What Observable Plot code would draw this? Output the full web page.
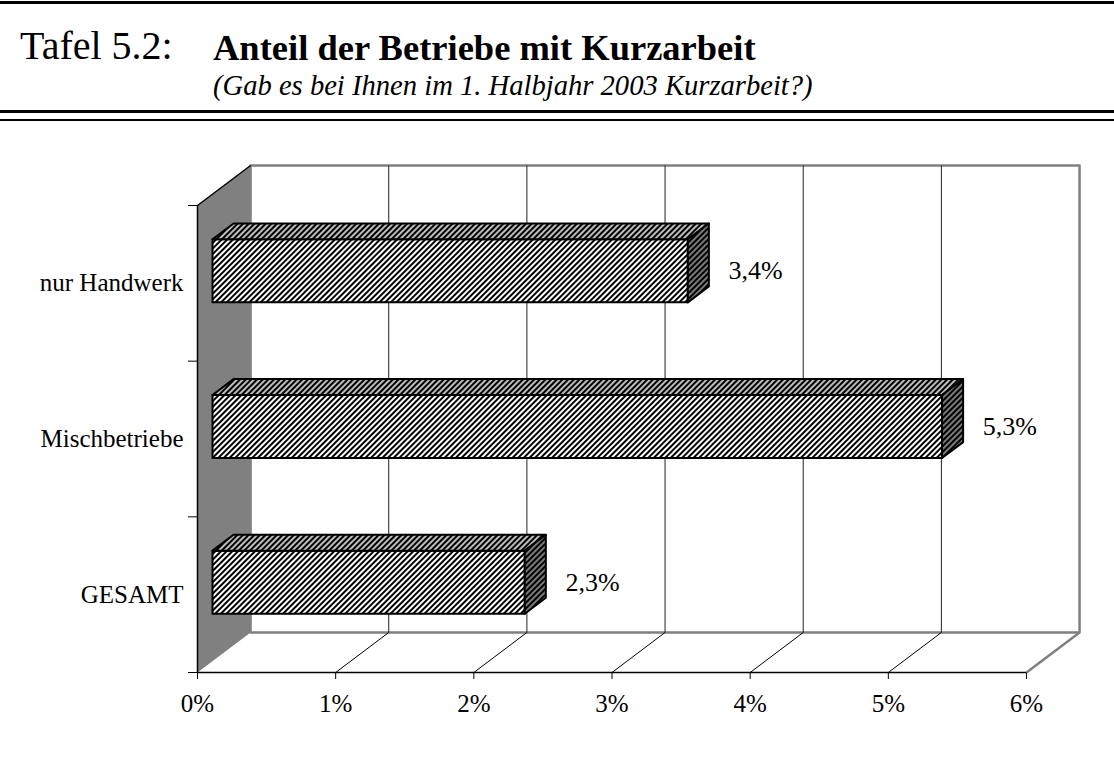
<!DOCTYPE html>
<html>
<head>
<meta charset="utf-8">
<script src="https://cdn.jsdelivr.net/npm/d3@7"></script>
<script src="https://cdn.jsdelivr.net/npm/@observablehq/plot@0.6"></script>
<style>
  html, body { margin: 0; padding: 0; background: #fff; }
  body { font-family: "Liberation Serif", "Times New Roman", serif; color: #000; width: 1114px; }
  #header { position: relative; width: 1114px; height: 125px; }
  .rule { position: absolute; left: 0; width: 1114px; background: #000; }
  .txt { position: absolute; white-space: nowrap; line-height: 1; }
  #tafel { left: 20px; top: 26px; font-size: 40px; }
  #title { left: 213px; top: 30px; font-size: 36.5px; font-weight: bold; }
  #subtitle { left: 213px; top: 72px; font-size: 28.6px; font-style: italic; }
  #chart svg { display: block; }
</style>
</head>
<body>
<div id="header">
  <div class="rule" style="top:1px;height:3px"></div>
  <div class="txt" id="tafel">Tafel 5.2:</div>
  <div class="txt" id="title">Anteil der Betriebe mit Kurzarbeit</div>
  <div class="txt" id="subtitle">(Gab es bei Ihnen im 1. Halbjahr 2003 Kurzarbeit?)</div>
  <div class="rule" style="top:110px;height:3px"></div>
  <div class="rule" style="top:119px;height:2px"></div>
</div>
<div id="chart"></div>
<script>
// ---- data ----
const categories = ["GESAMT", "Mischbetriebe", "nur Handwerk"];   // bottom to top
const values = [2.26, 5.28, 3.44];                               // percent
const valueLabels = ["2,3%", "5,3%", "3,4%"];
const xTicks = [0, 1, 2, 3, 4, 5, 6];
const xTickLabels = ["0%", "1%", "2%", "3%", "4%", "5%", "6%"];

// ---- 3D projection settings (data units) ----
const DX = 0.384, DY = 0.257;     // full depth offset of the back wall
const T1 = 0.283, T2 = 0.68;      // bar front / back depth
const B0 = 0.305, B1 = 0.71;      // bar extent inside its row
const nRows = categories.length;
const xMax = xTicks[xTicks.length - 1];

const P = (x, y, t) => ({x: x + DX * t, y: y + DY * t});

function polys(builder) {
  const out = [];
  values.forEach((v, i) => builder(v, i).forEach(p => out.push({id: i, ...p})));
  return out;
}
const frontFaces = polys((v, i) => [P(0, i + B0, T1), P(v, i + B0, T1), P(v, i + B1, T1), P(0, i + B1, T1)]);
const topFaces = polys((v, i) => [P(0, i + B1, T1), P(0, i + B1, T2), P(v, i + B1, T2), P(v, i + B1, T1)]);
const sideFaces = polys((v, i) => [P(v, i + B0, T1), P(v, i + B1, T1), P(v, i + B1, T2), P(v, i + B0, T2)]);

const backWall = [P(0, 0, 1), P(xMax, 0, 1), P(xMax, nRows, 1), P(0, nRows, 1)];
const leftWall = [P(0, 0, 0), P(0, 0, 1), P(0, nRows, 1), P(0, nRows, 0)];

const rows = categories.map((c, i) => ({c, i, v: values[i], label: valueLabels[i]}));

const chart = Plot.plot({
  width: 1114,
  height: 633,
  marginLeft: 197,
  marginRight: 88,
  marginTop: 80,
  marginBottom: 86,
  style: {fontFamily: "Liberation Serif, Times New Roman, serif", fontSize: "25px", color: "#000", background: "#fff"},
  x: {domain: [0, xMax], ticks: xTicks, tickFormat: d => xTickLabels[xTicks.indexOf(d)], tickSize: 7, tickPadding: 15, label: null},
  y: {domain: [0, nRows], ticks: d3.range(nRows + 1), tickFormat: () => "", tickSize: 9, label: null},
  marks: [
    // back wall
    Plot.line(backWall, {x: "x", y: "y", curve: "linear-closed", fill: "#fff", stroke: "#808080", strokeWidth: 2.5}),
    // gridlines on back wall
    Plot.link(xTicks.slice(1, -1), {x1: d => d + DX, x2: d => d + DX, y1: DY, y2: nRows + DY, stroke: "#222", strokeWidth: 1}),
    // floor lines
    Plot.link(xTicks.slice(1, -1), {x1: d => d, y1: 0, x2: d => d + DX, y2: DY, stroke: "#000", strokeWidth: 1}),
    Plot.link([xMax], {x1: d => d, y1: 0, x2: d => d + DX, y2: DY, stroke: "#808080", strokeWidth: 2.5}),
    // left side wall
    Plot.line(leftWall, {x: "x", y: "y", curve: "linear-closed", fill: "#808080", stroke: "none"}),
    Plot.link([nRows], {x1: 0, y1: d => d, x2: DX, y2: d => d + DY, stroke: "#000", strokeWidth: 1.5}),
    // axis lines
    Plot.ruleY([0], {x1: 0, x2: xMax, stroke: "#000", strokeWidth: 1.5}),
    Plot.ruleX([0], {y1: 0, y2: nRows, stroke: "#000", strokeWidth: 1.5}),
    // bars
    Plot.line(frontFaces, {x: "x", y: "y", z: "id", curve: "linear-closed", fill: "url(#hatchFront)", stroke: "#000", strokeWidth: 2}),
    Plot.line(topFaces, {x: "x", y: "y", z: "id", curve: "linear-closed", fill: "url(#hatchTop)", stroke: "#000", strokeWidth: 2}),
    Plot.line(sideFaces, {x: "x", y: "y", z: "id", curve: "linear-closed", fill: "url(#hatchSide)", stroke: "#000", strokeWidth: 2}),
    // category labels
    Plot.text(rows, {x: 0, y: d => d.i + 0.5, text: "c", textAnchor: "end", dx: -14, fontSize: 25}),
    // value labels
    Plot.text(rows, {x: d => d.v + 0.6, y: d => d.i + 0.58, text: "label", textAnchor: "middle", fontSize: 26})
  ]
});

const ns = "http://www.w3.org/2000/svg";
const defs = document.createElementNS(ns, "defs");
defs.innerHTML = `
  <pattern id="hatchFront" patternUnits="userSpaceOnUse" width="4" height="4" patternTransform="rotate(45)">
    <rect width="4" height="4" fill="#fff"/><rect width="2" height="4" fill="#000"/>
  </pattern>
  <pattern id="hatchTop" patternUnits="userSpaceOnUse" width="4" height="4" patternTransform="rotate(45)">
    <rect width="4" height="4" fill="#bdbdbd"/><rect width="2" height="4" fill="#000"/>
  </pattern>
  <pattern id="hatchSide" patternUnits="userSpaceOnUse" width="4" height="4" patternTransform="rotate(45)">
    <rect width="4" height="4" fill="#7a7a7a"/><rect width="2" height="4" fill="#000"/>
  </pattern>`;
chart.insertBefore(defs, chart.firstChild);
document.getElementById("chart").appendChild(chart);
</script>
</body>
</html>
